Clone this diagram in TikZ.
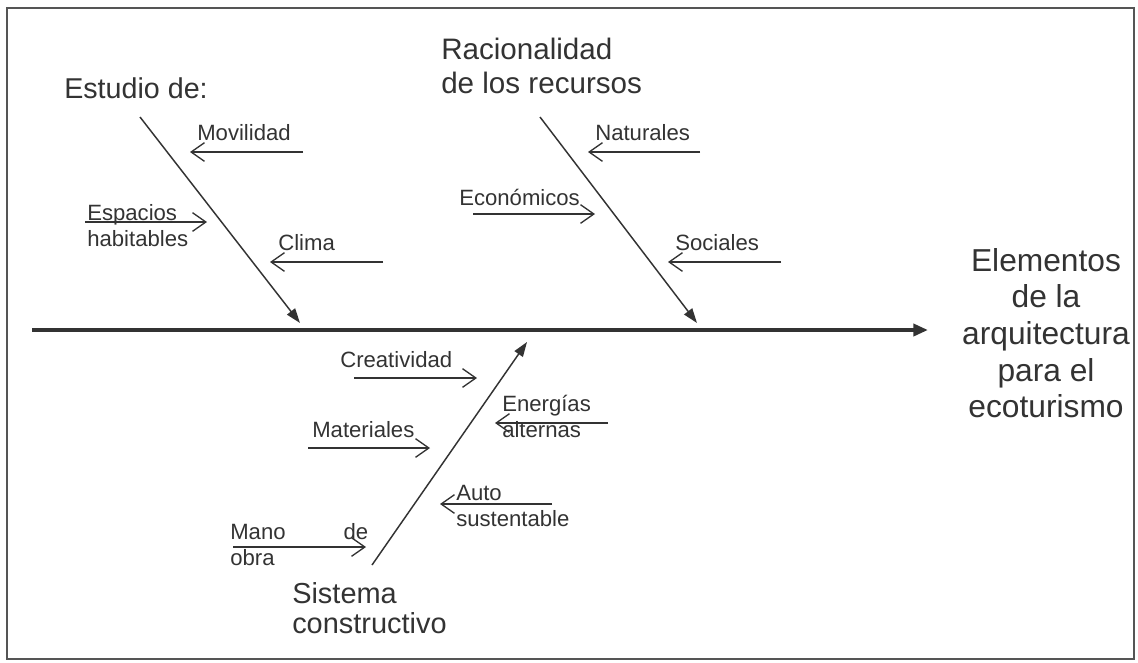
\documentclass[tikz,border=0pt]{standalone}
\usepackage{fontspec}
\setmainfont{Liberation Sans}
\usetikzlibrary{arrows.meta}
\definecolor{ink}{HTML}{333333}
\definecolor{frame}{HTML}{555555}
\tikzset{
  bigtxt/.style={inner sep=0pt, anchor=west, align=left, text=ink, font=\fontsize{21.5}{25}\selectfont},
  smalltxt/.style={inner sep=0pt, anchor=west, align=left, text=ink, font=\fontsize{16.6}{19.5}\selectfont},
  spine/.style={draw=ink, line width=3pt, -{Triangle[length=11pt,width=9pt]}},
  bone/.style={draw=ink, line width=1.1pt, -{Triangle[length=11pt,width=7.5pt]}},
  rib/.style={draw=ink, line width=1pt, -{Straight Barb[length=10pt,width=14pt,line width=1pt]}}
}
\begin{document}
\begin{tikzpicture}[x=0.75pt,y=-0.75pt]
\useasboundingbox (0,0) rectangle (1138,662);
\fill[white] (0,0) rectangle (1138,662);
\draw[frame, line width=1.6pt] (7,8) rectangle (1134,659);

% head
\node[inner sep=0pt, align=center, text=ink, font=\fontsize{23.8}{27.5}\selectfont] (elem) at (1046,333)
  {Elementos\\de la\\arquitectura\\para el\\ecoturismo};

% spine
\coordinate (s0) at (32,330);
\coordinate (s1) at (928,330);
\draw[spine] (s0) -- (s1);

% category labels
\node[bigtxt] (estudio) at (64,88) {Estudio de:};
\node[bigtxt, font=\fontsize{22.2}{26}\selectfont] (racio) at (441,66) {Racionalidad\\de los recursos};
\node[bigtxt, font=\fontsize{21.7}{23}\selectfont] (sist) at (292,608) {Sistema\\constructivo};

% bones
\coordinate (b1a) at (140,117);
\coordinate (b1b) at (300,323);
\draw[bone] (b1a) -- (b1b);
\coordinate (b2a) at (540,117);
\coordinate (b2b) at (697,323);
\draw[bone] (b2a) -- (b2b);
\coordinate (b3a) at (372,565);
\coordinate (b3b) at (527,342);
\draw[bone] (b3a) -- (b3b);

% ribs, bone 1
\node[smalltxt] (movil) at (197,133) {Movilidad};
\coordinate (r1a) at (303,152); \coordinate (r1b) at (190,152);
\draw[rib] (r1a) -- (r1b);
\node[smalltxt] (espac) at (87,226) {Espacios\\habitables};
\coordinate (r2a) at (85,222); \coordinate (r2b) at (207,222);
\draw[rib] (r2a) -- (r2b);
\node[smalltxt] (clima) at (278,243) {Clima};
\coordinate (r3a) at (383,262); \coordinate (r3b) at (270,262);
\draw[rib] (r3a) -- (r3b);

% ribs, bone 2
\node[smalltxt] (natur) at (595,133) {Naturales};
\coordinate (r4a) at (700,152); \coordinate (r4b) at (588,152);
\draw[rib] (r4a) -- (r4b);
\node[smalltxt] (econ) at (459,197) {Económicos};
\coordinate (r5a) at (473,214); \coordinate (r5b) at (595,214);
\draw[rib] (r5a) -- (r5b);
\node[smalltxt] (soc) at (675,243) {Sociales};
\coordinate (r6a) at (781,262); \coordinate (r6b) at (668,262);
\draw[rib] (r6a) -- (r6b);

% ribs, bone 3
\node[smalltxt] (creat) at (340,360) {Creatividad};
\coordinate (r7a) at (354,378); \coordinate (r7b) at (477,378);
\draw[rib] (r7a) -- (r7b);
\node[smalltxt] (energ) at (502,416) {Energías\\alternas};
\coordinate (r8a) at (608,423); \coordinate (r8b) at (495,423);
\draw[rib] (r8a) -- (r8b);
\node[smalltxt] (mater) at (312,430) {Materiales};
\coordinate (r9a) at (308,448); \coordinate (r9b) at (430,448);
\draw[rib] (r9a) -- (r9b);
\node[smalltxt] (auto) at (456,506) {Auto\\sustentable};
\coordinate (r10a) at (552,504); \coordinate (r10b) at (440,504);
\draw[rib] (r10a) -- (r10b);
\node[smalltxt] (mano) at (230,545) {\hbox to 103.5pt{Mano\hfill de}\\obra};
\coordinate (r11a) at (233,547); \coordinate (r11b) at (366,547);
\draw[rib] (r11a) -- (r11b);
\end{tikzpicture}
\end{document}
